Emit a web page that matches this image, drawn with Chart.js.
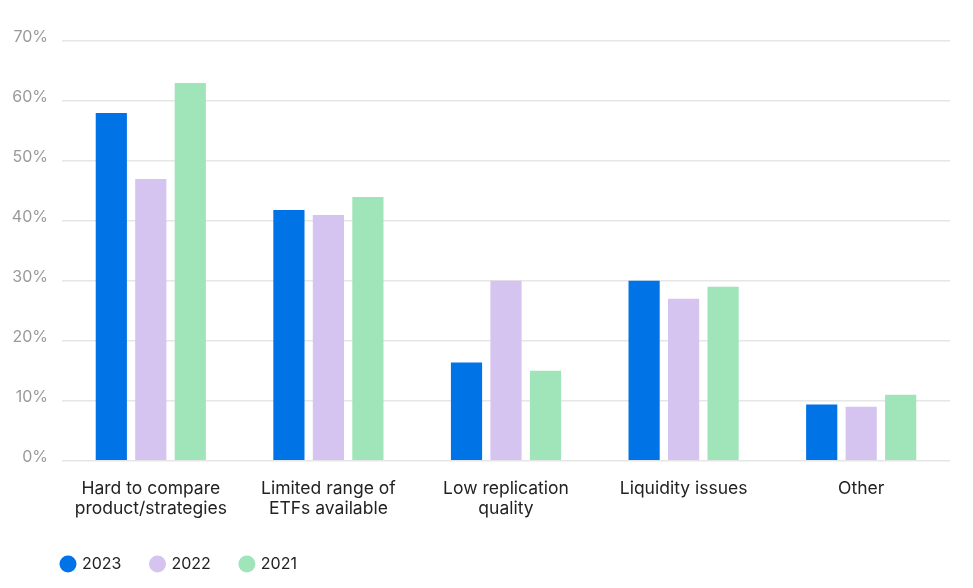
<!DOCTYPE html>
<html>
<head>
<meta charset="utf-8">
<script src="https://cdn.jsdelivr.net/npm/chart.js@4/dist/chart.umd.min.js"></script>
<style>
  html, body { margin: 0; padding: 0; background: #fff; }
  #wrap { width: 973px; height: 588px; position: relative; }
</style>
</head>
<body>
<div id="wrap"><canvas id="chart"></canvas></div>
<script>
// Dados do gráfico
const categories = [
    ['Hard to compare', 'product/strategies'],
    ['Limited range of', 'ETFs available'],
    ['Low replication', 'quality'],
    'Liquidity issues',
    'Other'
];
const years = ['2023', '2022', '2021'];
const values2023 = [58, 41.8, 16.4, 30, 9.4];
const values2022 = [47, 41, 30, 27, 9];
const values2021 = [63, 44, 15, 29, 11];
const yTicks = [0, 10, 20, 30, 40, 50, 60, 70];

const colors = ['#0073e6', '#d5c4ef', '#a0e4b9'];

// Alinha a legenda com a área do gráfico
const legendShift = {
    id: 'legendShift',
    afterLayout(chart) {
        const shift = chart.chartArea.left - 30;
        chart.legend.left += shift;
        chart.legend.right += shift;
        chart.legend.top -= 3;
        chart.legend.bottom -= 3;
    }
};

new Chart(document.getElementById('chart'), {
    type: 'bar',
    data: {
        labels: categories,
        datasets: [values2023, values2022, values2021].map((vals, i) => ({
            label: years[i],
            data: vals,
            backgroundColor: colors[i],
            categoryPercentage: 0.667,
            barPercentage: 0.79
        }))
    },
    options: {
        responsive: true,
        maintainAspectRatio: false,
        animation: false,
        layout: { padding: { top: 41, right: 23, left: 0, bottom: 3 } },
        plugins: {
            legend: {
                position: 'bottom',
                align: 'start',
                labels: {
                    usePointStyle: true,
                    pointStyle: 'circle',
                    boxWidth: 12,
                    boxHeight: 12,
                    padding: 30,
                    color: '#222',
                    font: { family: 'Inter', size: 16 }
                }
            },
            tooltip: { enabled: false }
        },
        scales: {
            x: {
                grid: { display: false },
                border: { display: false },
                ticks: {
                    color: '#222',
                    padding: 10,
                    maxRotation: 0,
                    font: { family: 'Inter', size: 17.5, lineHeight: 1.15 }
                }
            },
            y: {
                min: 0,
                max: 70,
                afterBuildTicks(axis) {
                    axis.ticks = yTicks.map(v => ({ value: v }));
                },
                afterFit(axis) {
                    axis.width = 62;
                },
                grid: { color: '#e6e6e6', lineWidth: 1.5, drawTicks: false },
                border: { display: false },
                ticks: {
                    color: '#9a9a9a',
                    padding: 14,
                    labelOffset: -4,
                    font: { family: 'Inter', size: 16 },
                    callback: v => v + '%'
                }
            }
        }
    },
    plugins: [legendShift]
});
</script>
</body>
</html>
